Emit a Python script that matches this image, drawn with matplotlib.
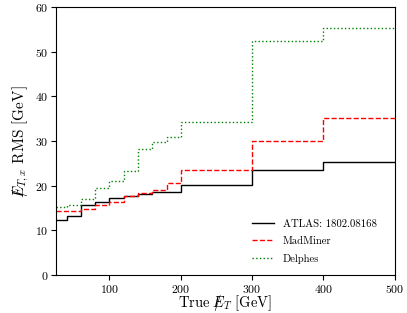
import matplotlib
matplotlib.use("Agg")
import matplotlib.pyplot as plt
import numpy as np

edges = [25, 40, 60, 80, 100, 120, 140, 160, 180, 200, 300, 400, 500]
atlas = [12.4, 13.25, 15.6, 16.4, 17.3, 17.7, 18.2, 18.7, 18.7, 20.2, 23.45, 25.3]
madminer = [14.4, 14.4, 14.9, 15.6, 16.4, 17.6, 18.4, 19.1, 20.6, 23.45, 30.0, 35.1]
delphes = [15.3, 15.6, 17.05, 19.4, 21.1, 23.3, 28.3, 29.8, 30.9, 34.25, 52.3, 55.3]

plt.rcParams['font.family'] = 'serif'
plt.rcParams['font.serif'] = ['cmr10']
plt.rcParams['mathtext.fontset'] = 'cm'
plt.rcParams['axes.formatter.use_mathtext'] = True

fig = plt.figure(figsize=(4.07, 3.13), dpi=100)
ax = fig.add_axes([0.1376, 0.121, 0.8324, 0.857])

ax.stairs(atlas, edges, baseline=None, color='black', lw=1.0, label='ATLAS: 1802.08168')
ax.stairs(madminer, edges, baseline=None, color='red', lw=1.0, ls='--', label='MadMiner')
ax.stairs(delphes, edges, baseline=None, color='green', lw=1.0, ls=':', label='Delphes')

ax.set_xlim(25, 500)
ax.set_ylim(0, 60)
ax.set_xticks([100, 200, 300, 400, 500])
ax.set_yticks([0, 10, 20, 30, 40, 50, 60])
ax.tick_params(labelsize=8.5, pad=2.0)
ax.set_xlabel(r'True $/\!\!\!\!E_T$ [GeV]', fontsize=10.5, labelpad=-1.0)
ax.set_ylabel(r'$/\!\!\!\!E_{T,x}$ RMS [GeV]', fontsize=11, labelpad=3)
ax.legend(loc='lower right', frameon=False, fontsize=7.7, labelspacing=0.75,
          handlelength=2.1, bbox_to_anchor=(0.975, 0.005))

fig.savefig('out.png', dpi=100)
